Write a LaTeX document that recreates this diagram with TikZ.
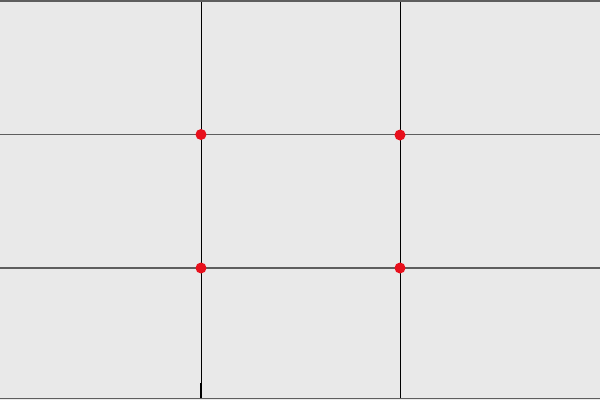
\documentclass[tikz,border=0pt]{standalone}
\definecolor{bg}{HTML}{E9E9E9}
\definecolor{hline}{HTML}{5E5E5E}
\definecolor{dotred}{HTML}{E8101C}
\tikzset{
  vline/.style={draw=black, line width=0.9pt},
  hgrid/.style={draw=hline, line width=1.8pt},
  frameline/.style={draw=hline, line width=1.6pt},
  reddot/.style={circle, fill=dotred, inner sep=0pt, minimum size=11pt}
}
\begin{document}
\begin{tikzpicture}[x=1pt,y=-1pt]
\fill[bg] (0,0) rectangle (600,400);
\useasboundingbox (0,0) rectangle (600,400);
\draw[frameline] (0,0.8) -- (600,0.8);
\draw[frameline] (0,398.5) -- (600,398.5);
\coordinate (v1t) at (201,2); \coordinate (v1b) at (201,398);
\coordinate (v2t) at (400,2); \coordinate (v2b) at (400,398);
\coordinate (h1l) at (0,134.5); \coordinate (h1r) at (600,134.5);
\coordinate (h2l) at (0,268); \coordinate (h2r) at (600,268);
\draw[hgrid] (h1l) -- (h1r);
\draw[hgrid] (h2l) -- (h2r);
\draw[vline] (v1t) -- (v1b);
\draw[vline] (v2t) -- (v2b);
\draw[black, line width=2pt] (201,383) -- (201,398);
\node[reddot] (p1) at (201,134.5) {};
\node[reddot] (p2) at (400,135) {};
\node[reddot] (p3) at (201,268) {};
\node[reddot] (p4) at (400,268) {};
\end{tikzpicture}
\end{document}
